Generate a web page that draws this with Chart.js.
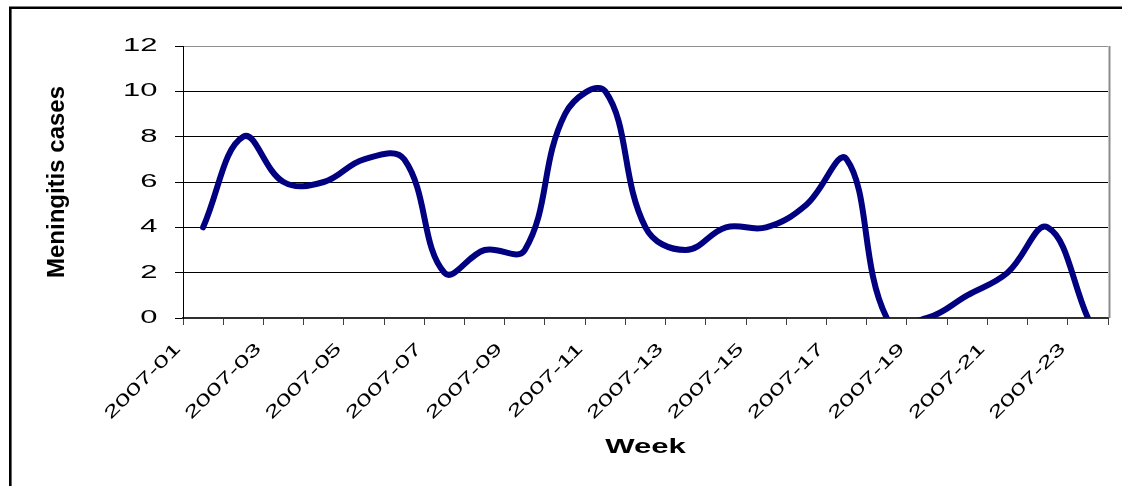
<!DOCTYPE html>
<html><head><meta charset="utf-8">
<script src="https://cdn.jsdelivr.net/npm/chart.js@4.4.1/dist/chart.umd.min.js"></script>
<style>html,body{margin:0;padding:0;background:#fff;} canvas{display:block;}</style>
</head><body>
<canvas id="c" width="1122" height="486"></canvas>
<script>
const weeks = ['2007-01','2007-02','2007-03','2007-04','2007-05','2007-06','2007-07','2007-08','2007-09','2007-10','2007-11','2007-12','2007-13','2007-14','2007-15','2007-16','2007-17','2007-18','2007-19','2007-20','2007-21','2007-22','2007-23'];
const cases = [4, 8, 6, 6, 7, 7, 2, 3, 3, 9, 10, 4, 3, 4, 4, 5, 7, 0, 0, 1, 2, 4, 0];
const yTicks = [0, 2, 4, 6, 8, 10, 12];
const xTitle = 'Week';
const yTitle = 'Meningitis cases';

// horizontal glyph stretch per font size (the reference text is drawn wide)
const STRETCH = {'17': 1.6, '18': 1.72, '21': 1.48};
const canvas = document.getElementById('c');
const ctx = canvas.getContext('2d');
const P = CanvasRenderingContext2D.prototype;
function stretchFor(c) {
  const m = /(\d+(?:\.\d+)?)px/.exec(c.font);
  return m ? (STRETCH[String(parseFloat(m[1]))] || 1) : 1;
}
ctx.fillText = function (t, x, y) {
  const s = stretchFor(this);
  if (s === 1) return P.fillText.call(this, t, x, y);
  this.save(); this.translate(x, y); this.scale(s, 1);
  P.fillText.call(this, t, 0, 0);
  this.restore();
};
ctx.measureText = function (t) {
  const m = P.measureText.call(this, t);
  const s = stretchFor(this);
  if (s === 1) return m;
  return {
    width: m.width * s,
    actualBoundingBoxAscent: m.actualBoundingBoxAscent,
    actualBoundingBoxDescent: m.actualBoundingBoxDescent,
    actualBoundingBoxLeft: m.actualBoundingBoxLeft * s,
    actualBoundingBoxRight: m.actualBoundingBoxRight * s,
    fontBoundingBoxAscent: m.fontBoundingBoxAscent,
    fontBoundingBoxDescent: m.fontBoundingBoxDescent
  };
};

const frame = {
  id: 'frame',
  beforeDraw(chart) {
    const c = chart.ctx;
    c.save();
    c.fillStyle = '#fff';
    c.fillRect(0, 0, chart.width, chart.height);
    c.strokeStyle = '#000';
    c.lineWidth = 2.6;
    c.beginPath();
    c.moveTo(10.3, chart.height + 10);
    c.lineTo(10.3, 7.8);
    c.lineTo(chart.width + 10, 7.8);
    c.stroke();
    c.restore();
  },
  beforeDatasetsDraw(chart) {
    const a = chart.chartArea, c = chart.ctx;
    c.save();
    c.strokeStyle = '#8c8c8c';
    c.lineWidth = 2;
    c.beginPath();
    c.moveTo(a.right + 1.5, a.top);
    c.lineTo(a.right + 1.5, a.bottom);
    c.stroke();
    c.restore();
  }
};

new Chart(ctx, {
  type: 'line',
  data: {
    labels: weeks,
    datasets: [{
      data: cases,
      borderColor: '#000080',
      borderWidth: 6,
      tension: 0.4,
      cubicInterpolationMode: 'default',
      pointRadius: 0,
      fill: false,
      clip: 0,
      borderCapStyle: 'round',
      borderJoinStyle: 'round'
    }]
  },
  options: {
    responsive: false, animation: false, devicePixelRatio: 1, events: [],
    layout: { padding: { top: 46, right: 14, left: 0, bottom: 0 } },
    plugins: { legend: { display: false }, tooltip: { enabled: false } },
    elements: { line: { capBezierPoints: false } },
    scales: {
      x: {
        type: 'category', offset: true,
        grid: { display: true, drawOnChartArea: false, drawTicks: true, tickLength: 7, offset: true, color: '#404040', lineWidth: 1 },
        border: { display: true, color: '#303030', width: 2 },
        ticks: {
          autoSkip: false, maxRotation: 45, minRotation: 45, color: '#000',
          font: { family: 'Liberation Sans', size: 17 }, padding: 14, labelOffset: -25,
          callback: (v, i) => (i % 2 === 0 ? weeks[i] : '')
        },
        title: { display: true, text: xTitle, color: '#000', font: { family: 'Liberation Sans', size: 21, weight: 'bold' }, padding: { top: 0, bottom: 26 } },
        afterFit: s => { s.height = 168; }
      },
      y: {
        min: 0, max: 12,
        afterBuildTicks: s => { s.ticks = yTicks.map(v => ({ value: v })); },
        grid: { color: c => (c.tick && c.tick.value === 12 ? '#909090' : '#000'), lineWidth: 1, drawTicks: true, tickLength: 8, tickColor: '#000' },
        border: { display: true, color: '#000', width: 1 },
        ticks: { color: '#000', font: { family: 'Liberation Sans', size: 18 }, padding: 17.5 },
        title: { display: true, text: yTitle, color: '#000', font: { family: 'Liberation Sans', size: 24, weight: 'bold' }, padding: { top: 43, bottom: 0 } },
        afterFit: s => { s.width = 183; }
      }
    }
  },
  plugins: [frame]
});
</script>
</body></html>
